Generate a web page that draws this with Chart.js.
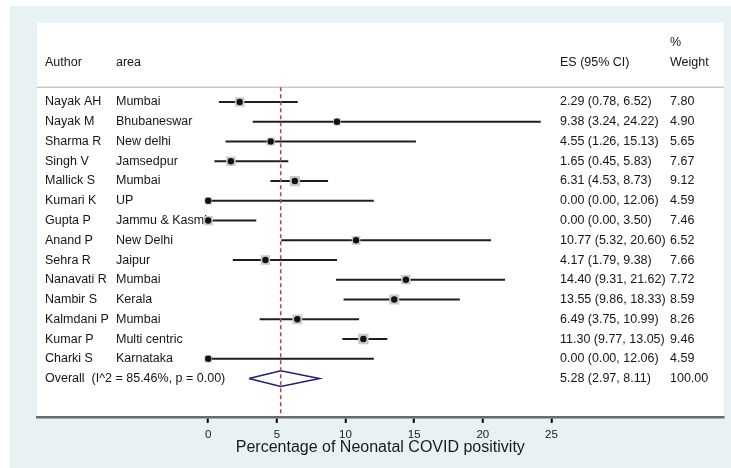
<!DOCTYPE html>
<html lang="en">
<head>
  <meta charset="UTF-8" />
  <title>Forest plot - Neonatal COVID positivity</title>
  <script src="https://cdn.jsdelivr.net/npm/chart.js"></script>
  <style>
    html, body {
      margin: 0;
      padding: 0;
      background: #fff;
    }
    canvas {
      display: block;
    }
  </style>
</head>
<body>
  <canvas id="forest" width="731" height="468"></canvas>

  <script>
    // study data
    const authors = ['Nayak AH', 'Nayak M', 'Sharma R', 'Singh V', 'Mallick S', 'Kumari K', 'Gupta P',
      'Anand P', 'Sehra R', 'Nanavati R', 'Nambir S', 'Kalmdani P', 'Kumar P', 'Charki S'];
    const areas = ['Mumbai', 'Bhubaneswar', 'New delhi', 'Jamsedpur', 'Mumbai', 'UP', 'Jammu & Kasmir',
      'New Delhi', 'Jaipur', 'Mumbai', 'Kerala', 'Mumbai', 'Multi centric', 'Karnataka'];
    const es = [2.29, 9.38, 4.55, 1.65, 6.31, 0.00, 0.00, 10.77, 4.17, 14.40, 13.55, 6.49, 11.30, 0.00];
    const ciLow = [0.78, 3.24, 1.26, 0.45, 4.53, 0.00, 0.00, 5.32, 1.79, 9.31, 9.86, 3.75, 9.77, 0.00];
    const ciHigh = [6.52, 24.22, 15.13, 5.83, 8.73, 12.06, 3.50, 20.60, 9.38, 21.62, 18.33, 10.99, 13.05, 12.06];
    const weights = [7.80, 4.90, 5.65, 7.67, 9.12, 4.59, 7.46, 6.52, 7.66, 7.72, 8.59, 8.26, 9.46, 4.59];

    const overallLabel = 'Overall  (I^2 = 85.46%, p = 0.00)';
    const overall = { es: 5.28, low: 2.97, high: 8.11, weight: 100.00 };

    const xTicks = [0, 5, 10, 15, 20, 25];
    const xTitle = 'Percentage of Neonatal COVID positivity';

    const fmt = v => v.toFixed(2);
    const rows = authors.map((a, i) => i + 1);
    const overallRow = authors.length + 1;
    const yTop = -3;
    const yBottom = 16.94;

    const datasets = [];

    // confidence interval lines, one per study
    authors.forEach((a, i) => {
      datasets.push({
        data: [{ x: ciLow[i], y: rows[i] }, { x: ciHigh[i], y: rows[i] }],
        showLine: true,
        borderColor: '#1e1e1e',
        borderWidth: 2,
        pointRadius: 0,
        order: 5
      });
    });

    // weight boxes
    datasets.push({
      data: es.map((v, i) => ({ x: v, y: rows[i] })),
      pointStyle: 'rect',
      pointRadius: weights.map(w => 2.4 * Math.sqrt(w)),
      backgroundColor: '#cacaca',
      borderWidth: 0,
      order: 4
    });

    // point estimates
    datasets.push({
      data: es.map((v, i) => ({ x: v, y: rows[i] })),
      pointStyle: 'circle',
      pointRadius: 3.2,
      backgroundColor: '#111',
      borderWidth: 0,
      order: 3
    });

    // overall diamond
    datasets.push({
      data: [
        { x: overall.low, y: overallRow },
        { x: overall.es, y: overallRow - 0.4 },
        { x: overall.high, y: overallRow },
        { x: overall.es, y: overallRow + 0.4 },
        { x: overall.low, y: overallRow }
      ],
      showLine: true,
      borderColor: '#1f1f78',
      borderWidth: 1.5,
      pointRadius: 0,
      tension: 0,
      order: 2
    });

    // overall effect dashed line
    datasets.push({
      data: [{ x: overall.es, y: 0.25 }, { x: overall.es, y: yBottom }],
      showLine: true,
      borderColor: '#b5484c',
      borderWidth: 1.6,
      borderDash: [4, 3],
      pointRadius: 0,
      clip: 0,
      order: 1
    });

    const backgroundPlugin = {
      id: 'panel',
      beforeDraw(chart) {
        const { ctx, chartArea } = chart;
        ctx.save();
        ctx.fillStyle = '#ffffff';
        ctx.fillRect(0, 0, chart.width, chart.height);
        ctx.fillStyle = '#e8f1f3';
        ctx.fillRect(10, 6, chart.width - 10, chart.height - 6);
        ctx.fillStyle = '#ffffff';
        ctx.fillRect(chartArea.left, chartArea.top, chartArea.right - chartArea.left, chartArea.bottom - chartArea.top);
        ctx.restore();
      }
    };

    const tablePlugin = {
      id: 'table',
      beforeDatasetsDraw(chart) {
        const { ctx, chartArea } = chart;
        const y = chart.scales.y;
        const cols = { author: 45, area: 116, es: 560, weight: 670 };
        ctx.save();
        ctx.fillStyle = '#151515';
        ctx.font = '12.5px "Liberation Sans", Arial, sans-serif';
        ctx.textBaseline = 'middle';
        ctx.textAlign = 'left';

        // header
        ctx.fillText('Author', cols.author, y.getPixelForValue(-1));
        ctx.fillText('area', cols.area, y.getPixelForValue(-1));
        ctx.fillText('ES (95% CI)', cols.es, y.getPixelForValue(-1));
        ctx.fillText('%', cols.weight, y.getPixelForValue(-2));
        ctx.fillText('Weight', cols.weight, y.getPixelForValue(-1));

        // header rule
        ctx.strokeStyle = '#c8c8c8';
        ctx.lineWidth = 1.5;
        ctx.beginPath();
        ctx.moveTo(chartArea.left, y.getPixelForValue(0.25));
        ctx.lineTo(chartArea.right, y.getPixelForValue(0.25));
        ctx.stroke();

        authors.forEach((a, i) => {
          const py = y.getPixelForValue(rows[i]);
          ctx.fillText(a, cols.author, py);
          ctx.fillText(areas[i], cols.area, py);
          ctx.fillText(`${fmt(es[i])} (${fmt(ciLow[i])}, ${fmt(ciHigh[i])})`, cols.es, py);
          ctx.fillText(fmt(weights[i]), cols.weight, py);
        });

        const oy = y.getPixelForValue(overallRow);
        ctx.fillText(overallLabel, cols.author, oy);
        ctx.fillText(`${fmt(overall.es)} (${fmt(overall.low)}, ${fmt(overall.high)})`, cols.es, oy);
        ctx.fillText(fmt(overall.weight), cols.weight, oy);
        ctx.restore();
      }
    };

    new Chart(document.getElementById('forest'), {
      type: 'scatter',
      data: { datasets: datasets },
      plugins: [backgroundPlugin, tablePlugin],
      options: {
        responsive: false,
        animation: false,
        layout: { padding: { left: 37, right: 7, top: 23, bottom: 10.6 } },
        plugins: {
          legend: { display: false },
          tooltip: { enabled: false }
        },
        scales: {
          x: {
            type: 'linear',
            min: -12.47,
            max: 37.54,
            afterBuildTicks: scale => {
              scale.ticks = xTicks.map(v => ({ value: v }));
            },
            border: { color: '#6a6a6a', width: 2.5 },
            grid: {
              drawOnChartArea: false,
              drawTicks: true,
              tickLength: 6,
              tickColor: '#000',
              tickWidth: 2,
              color: '#222',
              lineWidth: 1.5
            },
            ticks: {
              padding: 5,
              color: '#1a1a1a',
              font: { family: '"Liberation Sans", Arial, sans-serif', size: 11.5 }
            },
            title: {
              display: true,
              text: xTitle,
              color: '#1a1a1a',
              padding: { top: -8.5, bottom: 0 },
              font: { family: '"Liberation Sans", Arial, sans-serif', size: 16 }
            }
          },
          y: {
            type: 'linear',
            display: false,
            reverse: true,
            min: yTop,
            max: yBottom
          }
        }
      }
    });
  </script>
</body>
</html>
